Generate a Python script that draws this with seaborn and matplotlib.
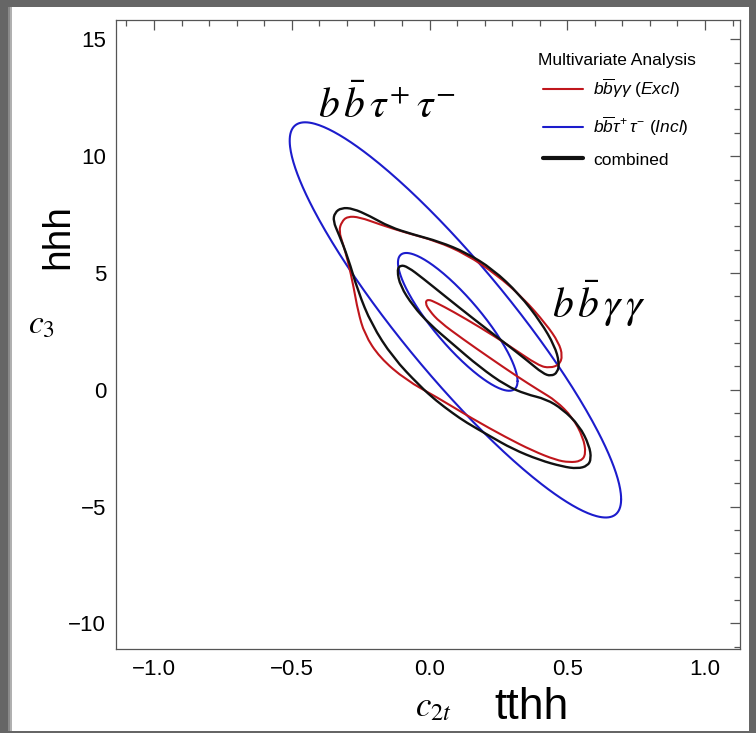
import numpy as np
import pandas as pd
import matplotlib
matplotlib.use("Agg")
import matplotlib.pyplot as plt
import seaborn as sns
from matplotlib.patches import Rectangle, PathPatch
from matplotlib.path import Path
from matplotlib.lines import Line2D
from matplotlib.ticker import MultipleLocator, FuncFormatter

# b bbar gamma gamma (exclusive) contour in the (c2t, c3) plane
red_c2t = [-0.329, -0.319, -0.298, -0.254, -0.181, -0.085, 0.024, 0.133, 0.242, 0.338,
           0.423, 0.469, 0.483, 0.471, 0.437, 0.396, 0.290, 0.181, 0.085, 0.024,
           -0.006, -0.016, 0.000, 0.036, 0.121, 0.217, 0.314, 0.399, 0.459, 0.519,
           0.558, 0.568, 0.550, 0.507, 0.459, 0.374, 0.278, 0.157, 0.024, -0.085,
           -0.181, -0.236, -0.260, -0.275, -0.296, -0.314]
red_c3 = [6.80, 7.19, 7.42, 7.39, 7.08, 6.72, 6.37, 5.80, 4.94, 3.95,
          2.81, 2.02, 1.45, 1.07, 0.93, 1.03, 1.88, 2.69, 3.35, 3.73,
          3.88, 3.72, 3.38, 2.91, 2.17, 1.38, 0.60, -0.04, -0.47, -1.18,
          -2.04, -2.75, -3.06, -3.11, -3.01, -2.61, -2.04, -1.25, -0.30, 0.41,
          1.38, 2.38, 3.38, 4.37, 5.51, 6.23]

# combined contour
comb_c2t = [-0.350, -0.344, -0.320, -0.278, -0.217, -0.145, -0.060, 0.036, 0.133, 0.230,
            0.326, 0.405, 0.454, 0.471, 0.465, 0.441, 0.411, 0.356, 0.266, 0.157,
            0.060, -0.024, -0.079, -0.106, -0.118, -0.106, -0.060, 0.000, 0.085, 0.181,
            0.278, 0.350, 0.423, 0.483, 0.544, 0.580, 0.587, 0.574, 0.537, 0.483,
            0.399, 0.302, 0.217, 0.133, 0.085, 0.024, -0.036, -0.133, -0.211, -0.260,
            -0.296, -0.329]
comb_c3 = [7.22, 7.58, 7.79, 7.76, 7.44, 6.97, 6.65, 6.34, 5.87, 5.16,
           4.09, 2.88, 1.88, 1.17, 0.74, 0.58, 0.70, 1.24, 2.07, 3.06,
           3.97, 4.77, 5.26, 5.34, 5.11, 4.44, 3.59, 2.81, 1.95, 0.98,
           0.17, -0.19, -0.40, -0.83, -1.54, -2.39, -2.96, -3.26, -3.38, -3.29,
           -3.01, -2.54, -1.97, -1.40, -1.01, -0.47, 0.17, 1.38, 2.81, 4.23,
           5.66, 6.65]

# b bbar tau tau (inclusive): two elliptical contours given by centre,
# half-extent along each axis and the c2t-c3 correlation
tau_c2t_center = [0.094, 0.1025]
tau_c3_center = [2.99, 2.906]
tau_c2t_half = [0.6015, 0.217]
tau_c3_half = [8.46, 2.95]
tau_rho = [-0.907, -0.86]

legend_title = "Multivariate Analysis"
legend_labels = [r"$b\overline{b}\gamma\gamma$ ($\mathit{Excl}$)",
                 r"$b\overline{b}\tau^{+}\,\tau^{-}$ ($\mathit{Incl}$)",
                 "combined"]

RED = "#c0161c"
BLUE = "#1c1ccc"
BLACK = "#111111"

sns.set_style("white")
plt.rcParams["font.family"] = ["Liberation Sans", "DejaVu Sans"]
plt.rcParams["text.color"] = "black"
plt.rcParams["mathtext.fontset"] = "custom"
plt.rcParams["mathtext.rm"] = "Liberation Sans"
plt.rcParams["mathtext.it"] = "Liberation Sans:italic"
plt.rcParams["mathtext.bf"] = "Liberation Sans:bold"

W, H = 756, 733
fig = plt.figure(figsize=(W / 100, H / 100), dpi=100)
fig.patch.set_facecolor("#666666")
for x0, w, c in [(8, 2, "#8a8a8a"), (10, 2, "#b0b0b0")]:
    fig.patches.append(Rectangle((x0 / W, 1 - 731 / H), w / W, 724 / H,
                                 transform=fig.transFigure, facecolor=c,
                                 edgecolor="none", zorder=-2))
fig.patches.append(Rectangle((12 / W, 1 - 731 / H), (749 - 12) / W, 724 / H,
                             transform=fig.transFigure, facecolor="white",
                             edgecolor="none", zorder=-2))

ax = fig.add_axes([116 / W, 1 - 649 / H, (740 - 116) / W, (649 - 20) / H])
ax.set_zorder(1)
ax.set_facecolor("white")


def smooth_closed(xs, ys, color, lw):
    """Closed contour drawn as a chain of quadratic Bezier segments."""
    pts = np.column_stack([xs, ys])
    mids = (pts + np.roll(pts, -1, axis=0)) / 2
    verts = [mids[-1]]
    codes = [Path.MOVETO]
    for p, m in zip(pts, mids):
        verts += [p, m]
        codes += [Path.CURVE3, Path.CURVE3]
    ax.add_patch(PathPatch(Path(verts, codes), fill=False, edgecolor=color,
                           lw=lw, joinstyle="round", zorder=2))


# elliptical bbtautau contours
t = np.linspace(0, 2 * np.pi, 400)
for cx, cy, hx, hy, r in zip(tau_c2t_center, tau_c3_center, tau_c2t_half,
                             tau_c3_half, tau_rho):
    phi = np.arccos(r)
    ell = pd.DataFrame({"c2t": cx + hx * np.cos(t), "c3": cy + hy * np.cos(t - phi)})
    sns.lineplot(data=ell, x="c2t", y="c3", sort=False, estimator=None,
                 color=BLUE, lw=1.5, ax=ax)

smooth_closed(red_c2t, red_c3, RED, 1.5)
smooth_closed(comb_c2t, comb_c3, BLACK, 1.7)

ax.set_xlim(-1.138, 1.127)
ax.set_ylim(-11.1, 15.83)
ax.xaxis.set_major_locator(MultipleLocator(0.5))
ax.xaxis.set_minor_locator(MultipleLocator(0.1))
ax.yaxis.set_major_locator(MultipleLocator(5))
ax.yaxis.set_minor_locator(MultipleLocator(1))
ax.xaxis.set_major_formatter(FuncFormatter(
    lambda v, p: f"{v:.1f}".replace("-", "\u2212")))
ax.yaxis.set_major_formatter(FuncFormatter(
    lambda v, p: f"{v:.0f}".replace("-", "\u2212")))
ax.tick_params(which="both", direction="in", top=True, right=True,
               color="#555555", width=0.9, labelsize=16, labelcolor="black")
ax.tick_params(which="major", length=7, pad=7)
ax.tick_params(which="minor", length=4)
for s in ax.spines.values():
    s.set_visible(True)
    s.set_color("#555555")
    s.set_linewidth(0.9)
ax.set_xlabel("")
ax.set_ylabel("")

# channel annotations
ax.text(-0.406, 11.63, r"$b\,\bar{b}\,\tau^{+}\,\tau^{-}$", fontsize=30,
        math_fontfamily="stix", ha="left", va="baseline")
ax.text(0.446, 3.06, r"$b\,\bar{b}\,\gamma\,\gamma$", fontsize=30,
        math_fontfamily="stix", ha="left", va="baseline")

# axis titles
fig.text(433 / W, 1 - 716 / H, r"$c_{2t}$", fontsize=25, math_fontfamily="stix",
         ha="center", va="baseline")
fig.text(494 / W, 1 - 719 / H, "tthh", fontsize=32, ha="left", va="baseline")
fig.text(41 / W, 1 - 333 / H, r"$c_{3}$", fontsize=24, math_fontfamily="stix",
         ha="center", va="baseline")
fig.text(58 / W, 1 - 237 / H, "hhh", fontsize=28, rotation=90,
         ha="center", va="center")

# legend: title line plus three entries
ax.text((538 - 116) / 624, (649 - 60) / 629, legend_title, transform=ax.transAxes,
        fontsize=12.5, ha="left", va="center")
handles = [Line2D([], [], color=RED, lw=1.5),
           Line2D([], [], color=BLUE, lw=1.5),
           Line2D([], [], color=BLACK, lw=3.0)]
ax.legend(handles, legend_labels,
          loc="upper left", bbox_to_anchor=((543 - 116) / 624, (649 - 77) / 629),
          frameon=False, fontsize=12.5,
          handlelength=2.3, handletextpad=0.6, labelspacing=0.83, borderpad=0,
          borderaxespad=0)

fig.savefig("out.png", dpi=100, facecolor=fig.get_facecolor())
